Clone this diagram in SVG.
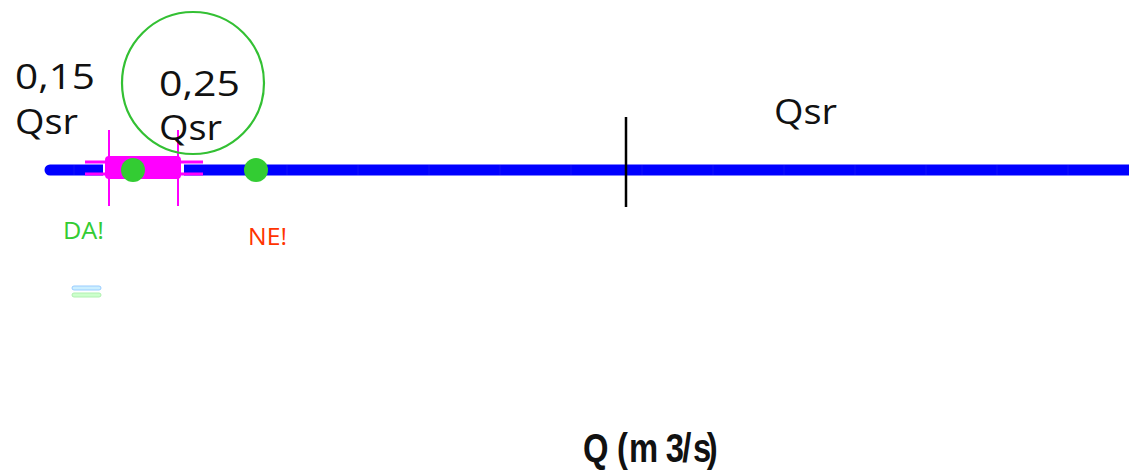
<svg xmlns="http://www.w3.org/2000/svg" width="1129" height="471" viewBox="0 0 1129 471">
<style>
.lbl{font-family:"Open Sans","Liberation Sans",sans-serif;font-size:34px;font-weight:400;fill:#111}
.small{font-family:"Open Sans","Liberation Sans",sans-serif;font-size:23px}
.tick{stroke:#1a1af2;stroke-width:0.7}
.mag{stroke:#ff00ff;fill:none}
.dot{fill:#33cc33}
</style>
<rect width="1129" height="471" fill="#fff"/>
<g id="connectors">
<line x1="50" y1="170" x2="1135" y2="170" stroke="#0000ff" stroke-width="11" stroke-linecap="round"/>
<g class="tick">
<line x1="74" y1="165" x2="74" y2="175"/><line x1="287" y1="165" x2="287" y2="175"/><line x1="358" y1="165" x2="358" y2="175"/><line x1="429" y1="165" x2="429" y2="175"/><line x1="500" y1="165" x2="500" y2="175"/><line x1="571" y1="165" x2="571" y2="175"/><line x1="642" y1="165" x2="642" y2="175"/><line x1="713" y1="165" x2="713" y2="175"/><line x1="784" y1="165" x2="784" y2="175"/><line x1="855" y1="165" x2="855" y2="175"/><line x1="926" y1="165" x2="926" y2="175"/><line x1="997" y1="165" x2="997" y2="175"/><line x1="1068" y1="165" x2="1068" y2="175"/>
</g>
</g>
<g id="range">
<rect x="103" y="155" width="81" height="30" fill="#fff"/>
<rect x="105" y="156" width="76" height="23" rx="4" fill="#ff00ff"/>
<line class="mag" x1="85" y1="162" x2="203" y2="162" stroke-width="3"/>
<line class="mag" x1="85" y1="174" x2="203" y2="174" stroke-width="3"/>
<line class="mag" x1="109" y1="130" x2="109" y2="206" stroke-width="2"/>
<line class="mag" x1="178" y1="130" x2="178" y2="206" stroke-width="2"/>
</g>
<g id="dot1"><circle class="dot" cx="133" cy="170" r="12"/></g>
<g id="dot2"><circle class="dot" cx="256" cy="170" r="12"/></g>
<g id="circle025"><circle cx="193" cy="83" r="71" fill="none" stroke="#33c033" stroke-width="2.2"/></g>
<g id="marker-qsr"><line x1="626" y1="117" x2="626" y2="207" stroke="#000" stroke-width="2.5"/></g>
<g id="label015"><text class="lbl" x="15" y="89" textLength="80" lengthAdjust="spacingAndGlyphs">0,15</text><text class="lbl" x="15" y="134" textLength="63" lengthAdjust="spacingAndGlyphs">Qsr</text></g>
<g id="label025"><text class="lbl" x="159" y="96" textLength="81" lengthAdjust="spacingAndGlyphs">0,25</text><text class="lbl" x="159" y="140" textLength="63" lengthAdjust="spacingAndGlyphs">Qsr</text></g>
<g id="labelqsr"><text class="lbl" x="774" y="124" textLength="63" lengthAdjust="spacingAndGlyphs">Qsr</text></g>
<g id="da"><text class="small" x="63" y="239" fill="#33cc33" textLength="41" lengthAdjust="spacingAndGlyphs">DA!</text></g>
<g id="ne"><text class="small" x="248" y="245" fill="#ff3300" textLength="39" lengthAdjust="spacingAndGlyphs">NE!</text></g>
<g id="legend">
<rect x="72" y="286" width="29" height="4" rx="2" fill="#ccefff" stroke="#99ccff" stroke-width="1"/>
<rect x="72" y="293" width="29" height="4" rx="2" fill="#ccffcc" stroke="#b0f0b0" stroke-width="1"/>
</g>
<g id="axis" transform="translate(583,462) scale(0.82,1)"><text x="0 36 41.5 56 101 121 134 151" y="0" font-family="Liberation Sans, Arial, sans-serif" font-weight="bold" font-size="40" fill="#111">Q (m3/s)</text></g>
</svg>
